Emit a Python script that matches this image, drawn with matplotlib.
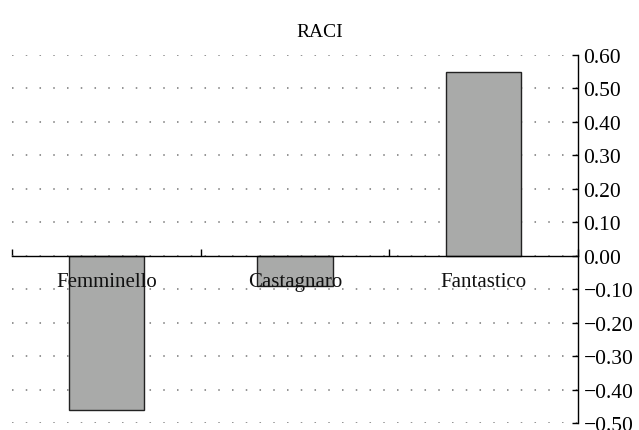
import matplotlib.pyplot as plt
import numpy as np

categories = ['Femminello', 'Castagnaro', 'Fantastico']
raci = [-0.46, -0.09, 0.55]
yticks = [0.60, 0.50, 0.40, 0.30, 0.20, 0.10, 0.00, -0.10, -0.20, -0.30, -0.40, -0.50]

plt.rcParams['font.family'] = 'serif'
plt.rcParams['font.serif'] = ['Liberation Serif', 'DejaVu Serif']

fig = plt.figure(figsize=(6.39, 4.31), dpi=100)
ax = fig.add_axes([0.0188, 0.0162, 0.8857, 0.8538])

x = np.arange(len(categories))
ax.bar(x, raci, width=0.4, color='#a9aaa9', edgecolor='#222222', linewidth=1.0, zorder=2)

ax.set_xlim(-0.5, 2.5)
ax.set_ylim(-0.5, 0.6)

ax.yaxis.tick_right()
ax.set_yticks(yticks)
ax.set_yticklabels([f'{v:.2f}'.replace('-', '\u2212') for v in yticks])
ax.tick_params(axis='y', direction='in', length=4, width=1, pad=4, labelsize=15.5, right=True, left=False)

# category names drawn as text so they sit on top of the bars
ax.set_xticks(x)
ax.set_xticklabels([])
ax.tick_params(axis='x', which='major', length=0)
for i, name in enumerate(categories):
    ax.annotate(name, xy=(i, 0), xytext=(0, -18.5), textcoords='offset points',
                ha='center', va='center', fontsize=15, color='#111111', zorder=5)
ax.set_xticks([-0.5, 0.5, 1.5, 2.5], minor=True)
ax.tick_params(axis='x', which='minor', direction='in', length=5, width=1)

ax.spines['top'].set_visible(False)
ax.spines['left'].set_visible(False)
ax.spines['bottom'].set_position(('data', 0))
ax.spines['bottom'].set_linewidth(1.0)
ax.spines['right'].set_linewidth(1.0)

ax.grid(axis='y', color='#777777', linestyle=(0, (1, 8)), linewidth=1.1)
ax.set_axisbelow(True)

fig.text(0.5, 0.925, 'RACI', ha='center', va='center', fontsize=14)

fig.savefig('out.png', dpi=100)
